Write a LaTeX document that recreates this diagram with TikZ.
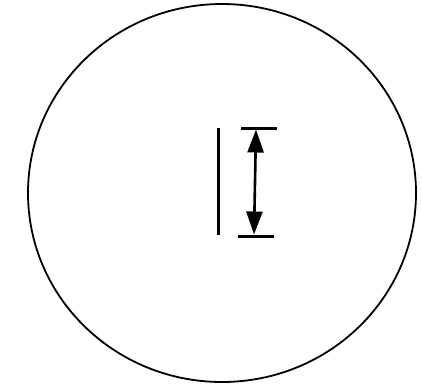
\documentclass[tikz,border=0pt]{standalone}
\usetikzlibrary{arrows.meta}
\begin{document}
\begin{tikzpicture}[x=1pt,y=-1pt,
  outline/.style={line width=1.8pt,black},
  stroke/.style={line width=3pt,black},
  dimarrow/.style={line width=2.6pt,black,{Triangle[length=23pt,width=16pt]}-{Triangle[length=23pt,width=16pt]}}]
\useasboundingbox (0,0) rectangle (422,383);
\draw[outline] (222,193) ellipse [x radius=194, y radius=189];
\coordinate (lt) at (218.5,128);
\coordinate (lb) at (218.5,235);
\draw[stroke] (lt) -- (lb);
\coordinate (tl) at (241,128);
\coordinate (tr) at (277,128);
\coordinate (bl) at (238,236);
\coordinate (br) at (274,236);
\draw[stroke] (tl) -- (tr);
\draw[stroke] (bl) -- (br);
\coordinate (at) at (256,129.5);
\coordinate (ab) at (254,234.5);
\draw[dimarrow] (at) -- (ab);
\end{tikzpicture}
\end{document}
